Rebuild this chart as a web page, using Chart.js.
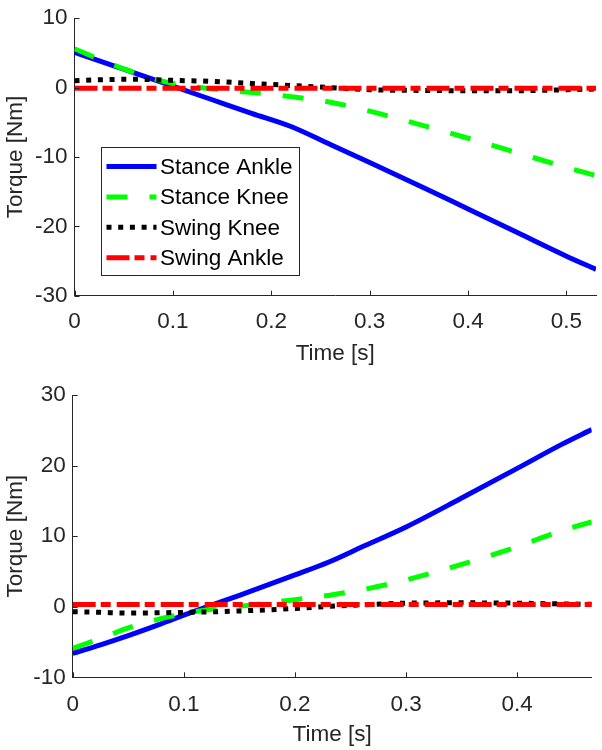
<!DOCTYPE html>
<html>
<head>
<meta charset="utf-8">
<script src="https://cdn.jsdelivr.net/npm/chart.js@4.4.1/dist/chart.umd.min.js"></script>
<style>
  html, body { margin: 0; padding: 0; background: #fff; }
  canvas { display: block; }
</style>
</head>
<body>
<canvas id="graficoArriba" width="602" height="375"></canvas>
<canvas id="graficoAbajo" width="602" height="375"></canvas>
<script>
// Nombres de las series (mismo orden en ambos gráficos)
const seriesNames = ['Stance Ankle', 'Stance Knee', 'Swing Knee', 'Swing Ankle'];

// Gráfico de arriba: tiempo [s] y torques [Nm]
const topTime = [0, 0.02, 0.05, 0.08, 0.1, 0.14, 0.18, 0.22, 0.26, 0.3, 0.35, 0.4, 0.45, 0.5, 0.53];
const topStanceAnkle = [5.1, 4.1, 2.65, 1.2, 0.2, -1.75, -3.7, -5.6, -8.2, -10.8, -14.1, -17.5, -20.9, -24.3, -26.2];
const topStanceKnee = [5.6, 4.4, 2.7, 1.3, 0.6, -0.2, -0.7, -1.3, -2.1, -3.4, -5.3, -7.3, -9.4, -11.5, -12.7];
const topSwingKnee = [1.0, 1.1, 1.2, 1.15, 1.05, 0.9, 0.6, 0.3, 0.0, -0.3, -0.4, -0.45, -0.45, -0.3, -0.2];
const topSwingAnkle = [-0.1, -0.1, -0.1, -0.1, -0.1, -0.1, -0.1, -0.1, -0.1, -0.1, -0.1, -0.1, -0.1, -0.1, -0.1];
const topXMax = 0.53;
const topYTicks = [-30, -20, -10, 0, 10];

// Gráfico de abajo
const botTime = [0, 0.025, 0.05, 0.08, 0.1, 0.12, 0.15, 0.2, 0.23, 0.26, 0.3, 0.35, 0.4, 0.44, 0.467];
const botStanceAnkle = [-6.6, -5.4, -4.1, -2.4, -1.2, -0.05, 1.6, 4.5, 6.3, 8.45, 11.3, 15.4, 19.6, 23.0, 25.1];
const botStanceKnee = [-5.9, -4.5, -3.0, -1.65, -1.0, -0.45, 0.05, 1.0, 1.6, 2.4, 3.8, 6.0, 8.5, 10.8, 12.0];
const botSwingKnee = [-0.7, -0.8, -0.9, -0.85, -0.8, -0.75, -0.6, -0.25, 0.05, 0.25, 0.5, 0.55, 0.5, 0.4, 0.35];
const botSwingAnkle = [0.3, 0.3, 0.3, 0.3, 0.3, 0.3, 0.3, 0.3, 0.3, 0.3, 0.3, 0.3, 0.3, 0.3, 0.3];
const botXMax = 0.467;
const botYTicks = [-10, 0, 10, 20, 30];

const xTicks = [0, 0.1, 0.2, 0.3, 0.4, 0.5];

// Estilos de línea tipo MATLAB
const estilos = [
    { color: '#0000ff', dash: [], width: 5, order: 4 },
    { color: '#00ff00', dash: [21, 22], width: 5, order: 3 },
    { color: '#000000', dash: [5, 6.7], width: 5, order: 2 },
    { color: '#ff0000', dash: [23, 5, 10, 6], width: 5, order: 1 }
];

const FUENTE = '"Liberation Sans", Arial, Helvetica, sans-serif';
const EJE = '#262626';

function armarDatasets(tiempo, series) {
    return series.map((vals, i) => ({
        label: seriesNames[i],
        data: tiempo.map((t, k) => ({ x: t, y: vals[k] })),
        borderColor: estilos[i].color,
        borderWidth: estilos[i].width,
        borderDash: estilos[i].dash,
        borderCapStyle: 'butt',
        pointRadius: 0,
        cubicInterpolationMode: 'monotone',
        fill: false,
        order: estilos[i].order
    }));
}

// Plugin: ticks hacia adentro y leyenda con muestras de línea
const ejesYLeyenda = {
    id: 'ejesYLeyenda',
    afterDatasetsDraw(chart, args, opts) {
        const ctx = chart.ctx;
        const xs = chart.scales.x, ys = chart.scales.y;
        const a = chart.chartArea;
        ctx.save();
        ctx.strokeStyle = EJE;
        ctx.lineWidth = 1;
        ctx.setLineDash([]);
        xs.ticks.forEach(t => {
            const px = Math.round(xs.getPixelForValue(t.value)) + 0.5;
            ctx.beginPath();
            ctx.moveTo(px, a.bottom);
            ctx.lineTo(px, a.bottom - 5);
            ctx.stroke();
        });
        ys.ticks.forEach(t => {
            const py = Math.round(ys.getPixelForValue(t.value)) + 0.5;
            ctx.beginPath();
            ctx.moveTo(a.left, py);
            ctx.lineTo(a.left + 5, py);
            ctx.stroke();
        });

        // Leyenda
        const L = opts.caja;
        ctx.fillStyle = '#ffffff';
        ctx.fillRect(L.x, L.y, L.w, L.h);
        ctx.strokeStyle = EJE;
        ctx.strokeRect(L.x + 0.5, L.y + 0.5, L.w, L.h);
        ctx.font = '22.5px ' + FUENTE;
        ctx.textBaseline = 'middle';
        ctx.textAlign = 'left';
        seriesNames.forEach((nombre, i) => {
            const yy = L.y + L.fila0 + i * L.paso;
            ctx.beginPath();
            ctx.strokeStyle = estilos[i].color;
            ctx.lineWidth = estilos[i].width;
            ctx.lineCap = 'butt';
            ctx.setLineDash(estilos[i].dash);
            ctx.moveTo(L.x + L.m0, yy);
            ctx.lineTo(L.x + L.m0 + L.largo, yy);
            ctx.stroke();
            ctx.setLineDash([]);
            ctx.fillStyle = '#000000';
            ctx.fillText(nombre, L.x + L.texto, yy + 1);
        });
        ctx.restore();
    }
};

function crearGrafico(id, tiempo, series, xMax, yTicks, geo) {
    const ctx = document.getElementById(id).getContext('2d');
    return new Chart(ctx, {
        type: 'line',
        data: { datasets: armarDatasets(tiempo, series) },
        options: {
            responsive: false,
            animation: false,
            devicePixelRatio: 1,
            layout: { padding: { top: geo.top, right: geo.right, left: 0, bottom: 0 } },
            plugins: {
                legend: { display: false },
                tooltip: { enabled: false },
                ejesYLeyenda: { caja: geo.leyenda }
            },
            scales: {
                x: {
                    type: 'linear',
                    min: 0,
                    max: xMax,
                    afterBuildTicks: s => { s.ticks = xTicks.filter(v => v <= xMax).map(v => ({ value: v })); },
                    afterFit: s => { s.height = geo.altoX; },
                    grid: { display: false, drawTicks: false },
                    border: { display: true, color: EJE, width: 1 },
                    ticks: {
                        color: EJE,
                        padding: geo.padX,
                        maxRotation: 0,
                        font: { family: FUENTE, size: 22.5, lineHeight: 1 },
                        callback: v => String(Number(v.toFixed(2)))
                    },
                    title: {
                        display: true,
                        text: 'Time [s]',
                        color: EJE,
                        font: { family: FUENTE, size: 22.5, lineHeight: 1.2 },
                        padding: { top: 0, bottom: geo.tituloX }
                    }
                },
                y: {
                    min: yTicks[0],
                    max: yTicks[yTicks.length - 1],
                    afterBuildTicks: s => { s.ticks = yTicks.map(v => ({ value: v })); },
                    afterFit: s => { s.width = geo.anchoY; },
                    grid: { display: false, drawTicks: false },
                    border: { display: true, color: EJE, width: 1 },
                    ticks: {
                        color: EJE,
                        padding: 7,
                        font: { family: FUENTE, size: 22.5, lineHeight: 1 },
                        callback: v => String(v)
                    },
                    title: {
                        display: true,
                        text: 'Torque [Nm]',
                        color: EJE,
                        font: { family: FUENTE, size: 22.5, lineHeight: 1.2 },
                        padding: { top: 2, bottom: 0 }
                    }
                }
            }
        },
        plugins: [ejesYLeyenda]
    });
}

document.addEventListener('DOMContentLoaded', () => {
    crearGrafico('graficoArriba', topTime,
        [topStanceAnkle, topStanceKnee, topSwingKnee, topSwingAnkle],
        topXMax, topYTicks,
        { top: 13.3, right: 6, anchoY: 74.5, altoX: 79.3, tituloX: 8, padX: 15,
          leyenda: { x: 101, y: 147, w: 198, h: 128, fila0: 19.5, paso: 30.4, m0: 5.5, largo: 50, texto: 59 } });
    crearGrafico('graficoAbajo', botTime,
        [botStanceAnkle, botStanceKnee, botSwingKnee, botSwingAnkle],
        botXMax, botYTicks,
        { top: 20, right: 10.3, anchoY: 72.7, altoX: 72.7, tituloX: 2, padX: 16,
          leyenda: { x: 83, y: 403, w: 198, h: 125, fila0: 17.5, paso: 30.2, m0: 7, largo: 48, texto: 58.5 } });
});
</script>
</body>
</html>
